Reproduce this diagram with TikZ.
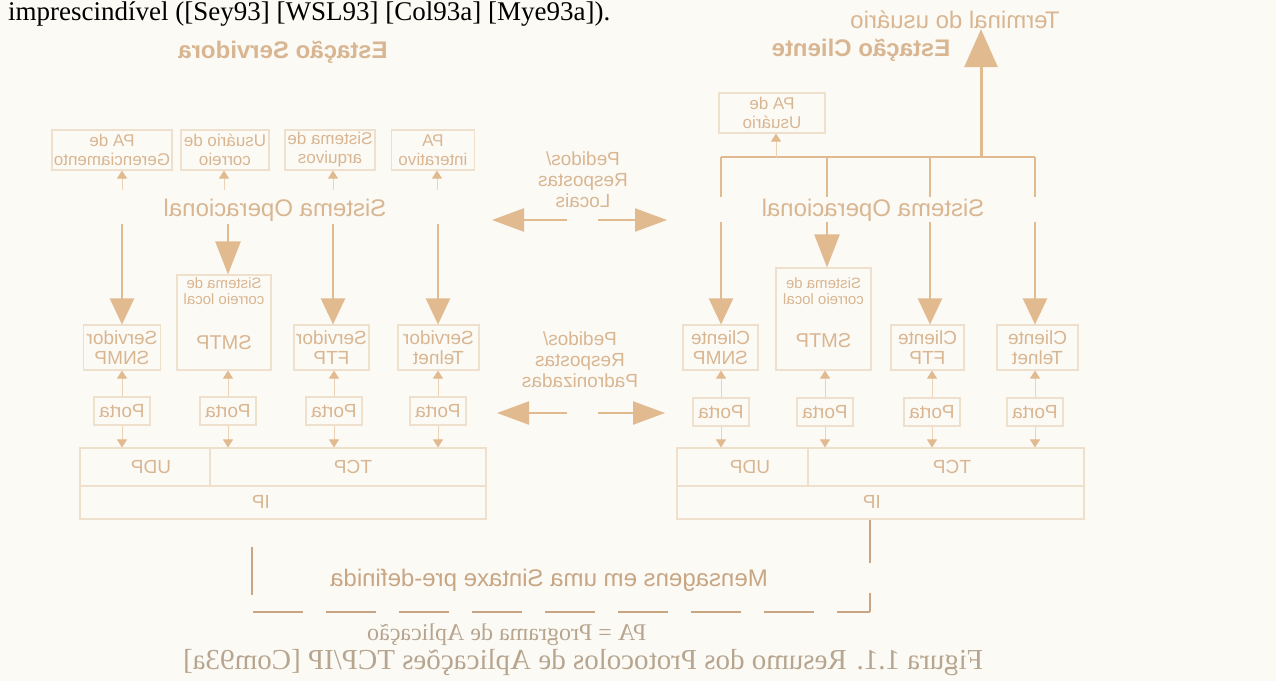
\documentclass[tikz,border=0pt]{standalone}
\usepackage{graphicx}
\usepackage{fontspec}
\setmainfont{Liberation Serif}
\setsansfont{Liberation Sans}
\usetikzlibrary{arrows.meta}

\newcommand{\mir}[1]{\reflectbox{#1}}
\newcommand{\fsz}[2]{\fontsize{#1}{#2}\selectfont}

\definecolor{paper}{HTML}{FCFAF5}
\definecolor{tan}{HTML}{E2BA90}
\definecolor{tanlight}{HTML}{EBD3B8}
\definecolor{frame}{HTML}{EEE0CD}
\definecolor{lbl}{HTML}{D9B692}
\definecolor{lbldark}{HTML}{C8A684}
\definecolor{capt}{HTML}{B7A58F}

\tikzset{
  lab/.style={text=lbl, inner sep=0pt, font=\sffamily\fsz{24}{28}},
  head/.style={text=lbl, inner sep=0pt, font=\sffamily\bfseries\fsz{24}{28}},
  box/.style={draw=frame, line width=1.1pt, text=lbl, align=center, inner sep=0pt,
              font=\sffamily\fsz{17}{19}},
  lowbox/.style={box, minimum height=45pt, font=\sffamily\fsz{19}{20}},
  portbox/.style={box, minimum width=56pt, minimum height=28pt, font=\sffamily\fsz{19}{20}},
  protobox/.style={draw=frame, line width=1.1pt, inner sep=0pt},
  prototxt/.style={text=lbl, inner sep=0pt, font=\sffamily\fsz{19}{20}},
  smalltxt/.style={text=lbl, align=center, inner sep=0pt, font=\sffamily\fsz{15}{16}},
  pairtxt/.style={text=lbl, align=center, inner sep=0pt, font=\sffamily\fsz{19}{21}},
  busline/.style={draw=tan, line width=2.4pt},
  colarrow/.style={draw=tan, line width=2.4pt, -{Triangle[length=26pt,width=24pt]}},
  midarrow/.style={draw=tan, line width=2.4pt, -{Triangle[length=33pt,width=25pt]}},
  termarrow/.style={draw=tan, line width=3pt, -{Triangle[length=38pt,width=33pt]}},
  pairarrow/.style={draw=tan, line width=2.2pt, -{Triangle[length=32pt,width=23pt]}},
  tinyarrow/.style={draw=tanlight, line width=0.8pt, -{Triangle[length=8pt,width=10pt,color=tan]}},
  bottomline/.style={draw=lbldark, line width=2pt},
}

\begin{document}
\begin{tikzpicture}[x=1pt,y=-1pt]
\fill[paper] (0,0) rectangle (1276,681);
\useasboundingbox (0,0) rectangle (1276,681);

% running text line above the figure
\node[anchor=base west, inner sep=0pt, text=black, font=\fsz{27}{30}] (topline) at (8,20)
  {imprescindível ([Sey93] [WSL93] [Col93a] [Mye93a]).};

% ---------------- server station (left) ----------------
\node[head] (srvtitle) at (283,52) {\mir{Estação Servidora}};

\node[box, minimum width=120pt, minimum height=40pt] (pager) at (112,150) {\mir{PA de}\\\mir{Gerenciamento}};
\node[box, minimum width=88pt, minimum height=40pt] (usrmail) at (225,150) {\mir{Usuário de}\\\mir{correio}};
\node[box, minimum width=90pt, minimum height=40pt] (files) at (330,150) {\mir{Sistema de}\\\mir{arquivos}};
\node[box, minimum width=83pt, minimum height=40pt] (painter) at (433,150) {\mir{PA}\\\mir{interativo}};

\node[lab] (soL) at (275,210) {\mir{Sistema Operacional}};

\coordinate (tL1) at (122,190);
\coordinate (tL2) at (224,190);
\coordinate (tL3) at (333,190);
\coordinate (tL4) at (437,190);
\draw[tinyarrow] (tL1) -- (pager.south -| tL1);
\draw[tinyarrow] (tL2) -- (usrmail.south -| tL2);
\draw[tinyarrow] (tL3) -- (files.south -| tL3);
\draw[tinyarrow] (tL4) -- (painter.south -| tL4);

\node[lowbox, minimum width=77pt] (snmpS) at (122,347.5) {\mir{Servidor}\\\mir{SNMP}};
\node[box, minimum width=94pt, minimum height=95pt] (smtpS) at (224,322.5) {};
\node[smalltxt] (smtpSa) at (224,291) {\mir{Sistema de}\\\mir{correio local}};
\node[lab, font=\sffamily\fsz{20}{22}] (smtpSb) at (224,343) {\mir{SMTP}};
\node[lowbox, minimum width=75pt] (ftpS) at (331.5,347.5) {\mir{Servidor}\\\mir{FTP}};
\node[lowbox, minimum width=81pt] (telS) at (438.5,347.5) {\mir{Servidor}\\\mir{Telnet}};

\coordinate (sL1) at (122,224);
\coordinate (sL2) at (228,224);
\coordinate (sL3) at (333,224);
\coordinate (sL4) at (438,224);
\draw[colarrow] (sL1) -- (snmpS.north -| sL1);
\draw[midarrow] (sL2) -- (smtpS.north -| sL2);
\draw[colarrow] (sL3) -- (ftpS.north -| sL3);
\draw[colarrow] (sL4) -- (telS.north -| sL4);

\node[portbox] (pS1) at (122,411) {\mir{Porta}};
\node[portbox] (pS2) at (228,411) {\mir{Porta}};
\node[portbox] (pS3) at (334,411) {\mir{Porta}};
\node[portbox] (pS4) at (438,411) {\mir{Porta}};

\node[protobox, minimum width=406pt, minimum height=71pt] (ipS) at (283,483.5) {};
\node[protobox, minimum width=130pt, minimum height=38pt] (udpS) at (145,467) {};
\node[protobox, minimum width=276pt, minimum height=38pt] (tcpS) at (348,467) {};
\node[prototxt] (udpSl) at (151,467) {\mir{UDP}};
\node[prototxt] (tcpSl) at (353,467) {\mir{TCP}};
\node[prototxt] (ipSl) at (261,502) {\mir{IP}};

\draw[tinyarrow] (pS1.north) -- (snmpS.south -| pS1.north);
\draw[tinyarrow] (pS2.north) -- (smtpS.south -| pS2.north);
\draw[tinyarrow] (pS3.north) -- (ftpS.south -| pS3.north);
\draw[tinyarrow] (pS4.north) -- (telS.south -| pS4.north);
\draw[tinyarrow] (pS1.south) -- (udpS.north -| pS1.south);
\draw[tinyarrow] (pS2.south) -- (tcpS.north -| pS2.south);
\draw[tinyarrow] (pS3.south) -- (tcpS.north -| pS3.south);
\draw[tinyarrow] (pS4.south) -- (tcpS.north -| pS4.south);

% ---------------- client station (right) ----------------
\node[lab] (term) at (955,20) {\mir{Terminal do usuário}};
\node[head] (clititle) at (861,50) {\mir{Estação Cliente}};
\node[box, minimum width=106pt, minimum height=40pt] (pausr) at (772,113) {\mir{PA de}\\\mir{Usuário}};

\coordinate (b1) at (721,157);
\coordinate (b2) at (827,157);
\coordinate (b3) at (930,157);
\coordinate (b4) at (1035,157);
\coordinate (bU) at (776,157);
\coordinate (bT) at (981,157);
\coordinate (d1) at (721,197);
\coordinate (d2) at (827,197);
\coordinate (d3) at (930,197);
\coordinate (d4) at (1035,197);
\draw[busline] (b1) -- (b4);
\draw[busline] (b1) -- (d1);
\draw[busline] (b2) -- (d2);
\draw[busline] (b3) -- (d3);
\draw[busline] (b4) -- (d4);
\draw[termarrow] (bT) -- (term.south -| bT);
\draw[tinyarrow] (bU) -- (pausr.south -| bU);

\node[lab] (soR) at (873,210) {\mir{Sistema Operacional}};

\node[lowbox, minimum width=75pt] (snmpC) at (720.5,347.5) {\mir{Cliente}\\\mir{SNMP}};
\node[box, minimum width=95pt, minimum height=102pt] (smtpC) at (823.5,319) {};
\node[smalltxt] (smtpCa) at (823.5,291) {\mir{Sistema de}\\\mir{correio local}};
\node[lab, font=\sffamily\fsz{20}{22}] (smtpCb) at (823.5,341) {\mir{SMTP}};
\node[lowbox, minimum width=73pt] (ftpC) at (927.5,347.5) {\mir{Cliente}\\\mir{FTP}};
\node[lowbox, minimum width=81pt] (telC) at (1037.5,347.5) {\mir{Cliente}\\\mir{Telnet}};

\coordinate (sR1) at (721,222);
\coordinate (sR2) at (827,222);
\coordinate (sR3) at (930,222);
\coordinate (sR4) at (1035,222);
\draw[colarrow] (sR1) -- (snmpC.north -| sR1);
\draw[midarrow] (sR2) -- (smtpC.north -| sR2);
\draw[colarrow] (sR3) -- (ftpC.north -| sR3);
\draw[colarrow] (sR4) -- (telC.north -| sR4);

\node[portbox] (pC1) at (721,412) {\mir{Porta}};
\node[portbox] (pC2) at (825,412) {\mir{Porta}};
\node[portbox] (pC3) at (932,412) {\mir{Porta}};
\node[portbox] (pC4) at (1035,412) {\mir{Porta}};

\node[protobox, minimum width=407pt, minimum height=71pt] (ipC) at (880.5,483.5) {};
\node[protobox, minimum width=131pt, minimum height=38pt] (udpC) at (742.5,467) {};
\node[protobox, minimum width=276pt, minimum height=38pt] (tcpC) at (946,467) {};
\node[prototxt] (udpCl) at (750,467) {\mir{UDP}};
\node[prototxt] (tcpCl) at (952,467) {\mir{TCP}};
\node[prototxt] (ipCl) at (872,502) {\mir{IP}};

\draw[tinyarrow] (pC1.north) -- (snmpC.south -| pC1.north);
\draw[tinyarrow] (pC2.north) -- (smtpC.south -| pC2.north);
\draw[tinyarrow] (pC3.north) -- (ftpC.south -| pC3.north);
\draw[tinyarrow] (pC4.north) -- (telC.south -| pC4.north);
\draw[tinyarrow] (pC1.south) -- (udpC.north -| pC1.south);
\draw[tinyarrow] (pC2.south) -- (tcpC.north -| pC2.south);
\draw[tinyarrow] (pC3.south) -- (tcpC.north -| pC3.south);
\draw[tinyarrow] (pC4.south) -- (tcpC.north -| pC4.south);

% ---------------- exchanges between the stations ----------------
\node[pairtxt] (locreq) at (583,180) {\mir{Pedidos/}\\\mir{Respostas}\\\mir{Locais}};
\coordinate (lq1) at (567,220);
\coordinate (lq2) at (492,220);
\coordinate (lq3) at (598,220);
\coordinate (lq4) at (667,220);
\draw[pairarrow] (lq1) -- (lq2);
\draw[pairarrow] (lq3) -- (lq4);

\node[pairtxt] (stdreq) at (580,360) {\mir{Pedidos/}\\\mir{Respostas}\\\mir{Padronizadas}};
\coordinate (sq1) at (567,413);
\coordinate (sq2) at (497,413);
\coordinate (sq3) at (598,413);
\coordinate (sq4) at (665,413);
\draw[pairarrow] (sq1) -- (sq2);
\draw[pairarrow] (sq3) -- (sq4);

% message path between the two IP layers
\coordinate (barT) at (252,547);
\coordinate (barB) at (252,595);
\coordinate (dashL) at (253,612);
\coordinate (dashR) at (870,612);
\coordinate (gapT) at (870,563);
\coordinate (gapB) at (870,593);
\draw[bottomline] (barT) -- (barB);
\draw[bottomline] (ipC.south -| gapT) -- (gapT);
\draw[bottomline] (gapB) -- (dashR);
\draw[bottomline, dash pattern=on 50pt off 23pt] (dashL) -- (dashR);
\node[lab, text=lbldark] (msg) at (549,580) {\mir{Mensagens em uma Sintaxe pre-definida}};

% legend and caption
\node[anchor=west, inner sep=0pt, text=capt, font=\fsz{24}{26}] (legend) at (367,635)
  {\mir{PA = Programa de Aplicação}};
\node[anchor=west, inner sep=0pt, text=capt, font=\fsz{29}{31}] (caption) at (183,663)
  {\mir{Figura 1.1. Resumo dos Protocolos de Aplicações TCP/IP [Com93a]}};
\end{tikzpicture}
\end{document}
